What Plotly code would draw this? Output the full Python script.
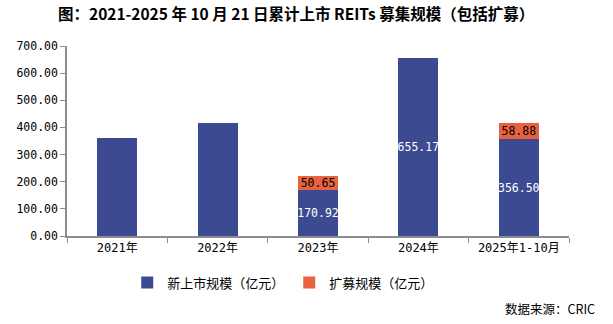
import plotly.graph_objects as go

categories = ["2021年", "2022年", "2023年", "2024年", "2025年1-10月"]
new_listing = [360.5, 416.5, 170.92, 655.17, 356.50]
expansion = [None, None, 50.65, None, 58.88]
new_labels = ["", "", "170.92", "655.17", "356.50"]
exp_labels = ["", "", "50.65", "", "58.88"]
y_ticks = [0, 100, 200, 300, 400, 500, 600, 700]

BLUE = "#3C4B91"
ORANGE = "#E8623F"
AXIS = "#8C8C8C"
NUMFONT = "DejaVu Sans Mono, Noto Sans CJK SC"
CJK = "Noto Sans CJK SC, DejaVu Sans"

fig = go.Figure()
fig.add_trace(go.Bar(
    x=categories, y=new_listing, name="新上市规模（亿元）",
    marker=dict(color=BLUE, line=dict(width=0)),
    text=new_labels, textposition="inside", insidetextanchor="middle",
    constraintext="none", textangle=0,
    textfont=dict(color="white", size=11.5, family=NUMFONT),
    hoverinfo="skip",
))
fig.add_trace(go.Bar(
    x=categories, y=expansion, name="扩募规模（亿元）",
    marker=dict(color=ORANGE, line=dict(width=0)),
    text=exp_labels, textposition="inside", insidetextanchor="middle",
    constraintext="none", textangle=0,
    textfont=dict(color="black", size=11.5, family=NUMFONT),
    hoverinfo="skip",
))

fig.update_layout(
    width=613, height=324,
    barmode="stack", bargap=0.6,
    margin=dict(l=67, r=44, t=46, b=88),
    plot_bgcolor="white", paper_bgcolor="white",
    title=dict(
        text="<b>图：2021-2025 年 10 月 21 日累计上市 REITs 募集规模（包括扩募）</b>",
        x=0.483, xanchor="center", y=0.955, yanchor="middle",
        font=dict(family=CJK, size=15.5, color="black"),
    ),
    showlegend=True,
    legend=dict(
        orientation="h", x=0.12, xanchor="left", y=-0.245, yanchor="middle",
        font=dict(family=CJK, size=13, color="black"),
        itemwidth=30, traceorder="normal",
    ),
    xaxis=dict(
        showline=True, linecolor=AXIS, linewidth=1.5,
        ticks="outside", tickson="boundaries", ticklen=5, tickcolor=AXIS,
        tickfont=dict(family=NUMFONT, size=12, color="black"),
        showgrid=False, fixedrange=True,
    ),
    yaxis=dict(
        range=[0, 700], tickvals=y_ticks,
        ticktext=[f"{v:.2f}" for v in y_ticks],
        showline=True, linecolor=AXIS, linewidth=1.5,
        ticks="outside", ticklen=5, tickcolor=AXIS,
        tickfont=dict(family=NUMFONT, size=11.5, color="black"),
        showgrid=False, zeroline=False, fixedrange=True,
    ),
    annotations=[dict(
        text="数据来源：CRIC", xref="paper", yref="paper",
        x=1.056, y=-0.379, xanchor="right", yanchor="middle",
        showarrow=False, font=dict(family=CJK, size=12.5, color="black"),
    )],
)

fig.write_html("out.html")
